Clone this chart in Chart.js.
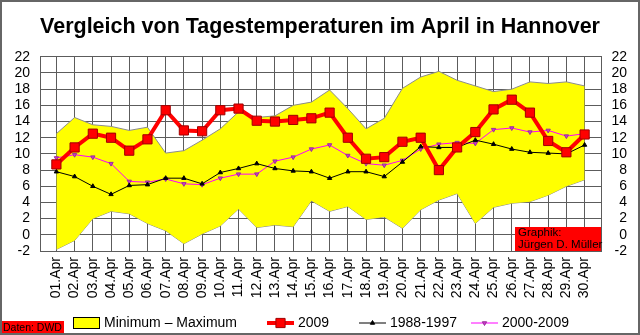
<!DOCTYPE html>
<html>
<head>
<meta charset="utf-8">
<title>Tagestemperaturen April Hannover</title>
<script src="https://cdn.jsdelivr.net/npm/chart.js@4.4.1/dist/chart.umd.min.js"></script>
<style>
  body { margin: 0; background: #fff; }
  canvas { display: block; }
</style>
</head>
<body>
<canvas id="tempChart" width="640" height="335"></canvas>
<script>
// Tageswerte April, Hannover (°C)
const days = ['01.Apr', '02.Apr', '03.Apr', '04.Apr', '05.Apr', '06.Apr', '07.Apr', '08.Apr', '09.Apr', '10.Apr',
              '11.Apr', '12.Apr', '13.Apr', '14.Apr', '15.Apr', '16.Apr', '17.Apr', '18.Apr', '19.Apr', '20.Apr',
              '21.Apr', '22.Apr', '23.Apr', '24.Apr', '25.Apr', '26.Apr', '27.Apr', '28.Apr', '29.Apr', '30.Apr'];

const tempMin = [-1.8, -0.7, 2.0, 2.9, 2.6, 1.4, 0.5, -1.1, 0.1, 1.1,
                 3.2, 0.9, 1.2, 1.0, 4.2, 2.9, 3.5, 1.9, 2.2, 0.8,
                 3.1, 4.3, 5.1, 1.4, 3.4, 3.9, 4.1, 4.9, 6.0, 6.8];
const tempMax = [12.5, 14.5, 13.6, 13.4, 12.9, 13.3, 10.1, 10.4, 11.7, 13.1,
                 15.2, 14.5, 14.7, 16.0, 16.4, 17.9, 15.6, 13.1, 14.4, 18.1,
                 19.5, 20.2, 19.1, 18.4, 17.7, 18.0, 18.9, 18.7, 18.9, 18.4];
const temp2009 = [8.7, 10.8, 12.5, 12.0, 10.4, 11.8, 15.4, 12.9, 12.8, 15.4,
                  15.6, 14.1, 14.0, 14.2, 14.4, 15.1, 12.0, 9.4, 9.6, 11.5,
                  12.0, 8.0, 10.8, 12.7, 15.5, 16.7, 15.1, 11.6, 10.2, 12.4];
const temp1988_1997 = [7.8, 7.2, 6.0, 5.0, 6.1, 6.2, 7.0, 7.0, 6.3, 7.7,
                       8.2, 8.8, 8.2, 7.9, 7.8, 7.0, 7.8, 7.8, 7.2, 9.0,
                       10.9, 10.8, 10.8, 11.7, 11.2, 10.6, 10.2, 10.1, 10.0, 11.1];
const temp2000_2009 = [9.5, 9.9, 9.6, 8.8, 6.6, 6.5, 6.9, 6.3, 6.2, 7.0,
                       7.5, 7.5, 9.1, 9.6, 10.6, 11.1, 9.8, 8.8, 8.6, 9.2,
                       10.6, 11.2, 11.4, 11.3, 13.0, 13.2, 12.7, 12.9, 12.2, 12.5];

const yTicks = { min: -2, max: 22, step: 2 };

const gridColor = '#5c5c5c';
const font = '"Liberation Sans", Arial, sans-serif';
Chart.defaults.font.family = font;
Chart.defaults.color = '#000';

const xy = arr => arr.map((v, i) => ({ x: i, y: v }));

function drawMarker(ctx, style, x, y, r, fill, stroke) {
  ctx.save();
  ctx.fillStyle = fill;
  ctx.strokeStyle = stroke;
  ctx.lineWidth = 1;
  ctx.beginPath();
  if (style === 'rect') {
    const s = r * Math.SQRT1_2;
    ctx.rect(x - s, y - s, 2 * s, 2 * s);
  } else {
    const dir = style === 'triangleDown' ? -1 : 1;
    ctx.moveTo(x, y - dir * r);
    ctx.lineTo(x + r * 0.87, y + dir * r * 0.5);
    ctx.lineTo(x - r * 0.87, y + dir * r * 0.5);
    ctx.closePath();
  }
  ctx.fill();
  ctx.stroke();
  ctx.restore();
}

// Hintergrund, Legende, Quellenangaben und Rahmen
const decorations = {
  id: 'decorations',
  beforeDraw(chart) {
    const ctx = chart.ctx;
    ctx.save();
    ctx.fillStyle = '#fff';
    ctx.fillRect(0, 0, chart.width, chart.height);
    ctx.restore();
  },
  afterDraw(chart) {
    const ctx = chart.ctx;
    const area = chart.chartArea;
    ctx.save();

    // Graphik-Hinweis unten rechts im Diagramm
    ctx.fillStyle = '#ff0000';
    ctx.fillRect(area.right - 86, area.bottom - 24, 86, 24);
    ctx.fillStyle = '#000';
    ctx.font = '11.5px ' + font;
    ctx.textBaseline = 'middle';
    ctx.textAlign = 'left';
    ctx.fillText('Graphik:', area.right - 83, area.bottom - 18);
    ctx.fillText('Jürgen D. Müller', area.right - 83, area.bottom - 6);

    // Datenquelle unten links
    ctx.fillStyle = '#ff0000';
    ctx.fillRect(0, chart.height - 14, 64, 14);
    ctx.fillStyle = '#000';
    ctx.font = '10.5px ' + font;
    ctx.fillText('Daten: DWD', 3, chart.height - 7);

    // Legende
    const ly = chart.height - 12;
    const ds = chart.data.datasets;
    const entries = [
      { x: 73, label: 'Minimum – Maximum', ds: ds[4] },
      { x: 267, label: '2009', ds: ds[0] },
      { x: 359, label: '1988-1997', ds: ds[1] },
      { x: 471, label: '2000-2009', ds: ds[2] }
    ];
    ctx.font = '14px ' + font;
    entries.forEach((e, i) => {
      if (i === 0) {
        ctx.fillStyle = e.ds.backgroundColor;
        ctx.fillRect(e.x, ly - 6, 27, 12);
        ctx.strokeStyle = '#000';
        ctx.lineWidth = 1;
        ctx.strokeRect(e.x + 0.5, ly - 5.5, 26, 11);
      } else {
        ctx.strokeStyle = e.ds.borderColor;
        ctx.lineWidth = e.ds.borderWidth;
        ctx.beginPath();
        ctx.moveTo(e.x, ly);
        ctx.lineTo(e.x + 27, ly);
        ctx.stroke();
        const style = e.ds.pointStyle === 'triangle' && e.ds.pointRotation === 180 ? 'triangleDown' : e.ds.pointStyle;
        drawMarker(ctx, style, e.x + 13.5, ly, e.ds.pointRadius,
                   e.ds.pointBackgroundColor, e.ds.pointBorderColor);
      }
      ctx.fillStyle = '#000';
      ctx.textAlign = 'left';
      ctx.fillText(e.label, e.x + 31, ly);
    });

    // Rahmen
    ctx.strokeStyle = '#666';
    ctx.lineWidth = 2;
    ctx.strokeRect(1, 1, chart.width - 2, chart.height - 2);
    ctx.restore();
  }
};

const yAxis = (position, width) => ({
  position: position,
  min: yTicks.min,
  max: yTicks.max,
  afterFit: axis => { axis.width = width; },
  grid: { color: gridColor, drawTicks: false, drawOnChartArea: position === 'left' },
  border: { color: gridColor },
  ticks: {
    stepSize: yTicks.step,
    autoSkip: false,
    padding: 10,
    crossAlign: position === 'left' ? 'near' : 'far',
    font: { size: 14 }
  }
});

new Chart(document.getElementById('tempChart'), {
  type: 'line',
  data: {
    datasets: [
      {
        label: '2009',
        data: xy(temp2009),
        borderColor: '#ff0000',
        borderWidth: 4,
        pointStyle: 'rect',
        pointRadius: 6.5,
        pointBackgroundColor: '#ff0000',
        pointBorderColor: '#a00000',
        pointBorderWidth: 1,
        order: 0
      },
      {
        label: '1988-1997',
        data: xy(temp1988_1997),
        borderColor: '#000',
        borderWidth: 1,
        pointStyle: 'triangle',
        pointRadius: 2.5,
        pointBackgroundColor: '#000',
        pointBorderColor: '#000',
        pointBorderWidth: 1,
        order: 1
      },
      {
        label: '2000-2009',
        data: xy(temp2000_2009),
        borderColor: '#ff00ff',
        borderWidth: 1,
        pointStyle: 'triangle',
        pointRotation: 180,
        pointRadius: 2.5,
        pointBackgroundColor: '#cc33cc',
        pointBorderColor: '#993399',
        pointBorderWidth: 1,
        order: 2
      },
      {
        label: 'Minimum',
        data: xy(tempMin),
        borderColor: '#8c8c8c',
        borderWidth: 1,
        pointRadius: 0,
        fill: false,
        order: 4
      },
      {
        label: 'Maximum',
        data: xy(tempMax),
        borderColor: '#8c8c8c',
        borderWidth: 1,
        backgroundColor: '#ffff00',
        pointRadius: 0,
        fill: '-1',
        order: 3
      }
    ]
  },
  options: {
    responsive: false,
    animation: false,
    layout: { padding: { left: 13, right: 13 } },
    scales: {
      x: {
        type: 'linear',
        min: -0.9,
        max: 29.9,
        afterBuildTicks: axis => { axis.ticks = days.map((d, i) => ({ value: i })); },
        afterFit: axis => { axis.height = 84; },
        grid: { color: gridColor, drawTicks: false },
        border: { color: gridColor },
        ticks: {
          callback: v => days[v],
          autoSkip: false,
          minRotation: 90,
          maxRotation: 90,
          padding: 6,
          font: { size: 14 }
        }
      },
      y: yAxis('left', 27),
      y2: yAxis('right', 26)
    },
    plugins: {
      legend: { display: false },
      tooltip: { enabled: false },
      title: {
        display: true,
        text: 'Vergleich von Tagestemperaturen im April in Hannover',
        font: { size: 21.5, weight: 'bold' },
        color: '#000',
        padding: { top: 14, bottom: 17 }
      }
    }
  },
  plugins: [decorations]
});
</script>
</body>
</html>
